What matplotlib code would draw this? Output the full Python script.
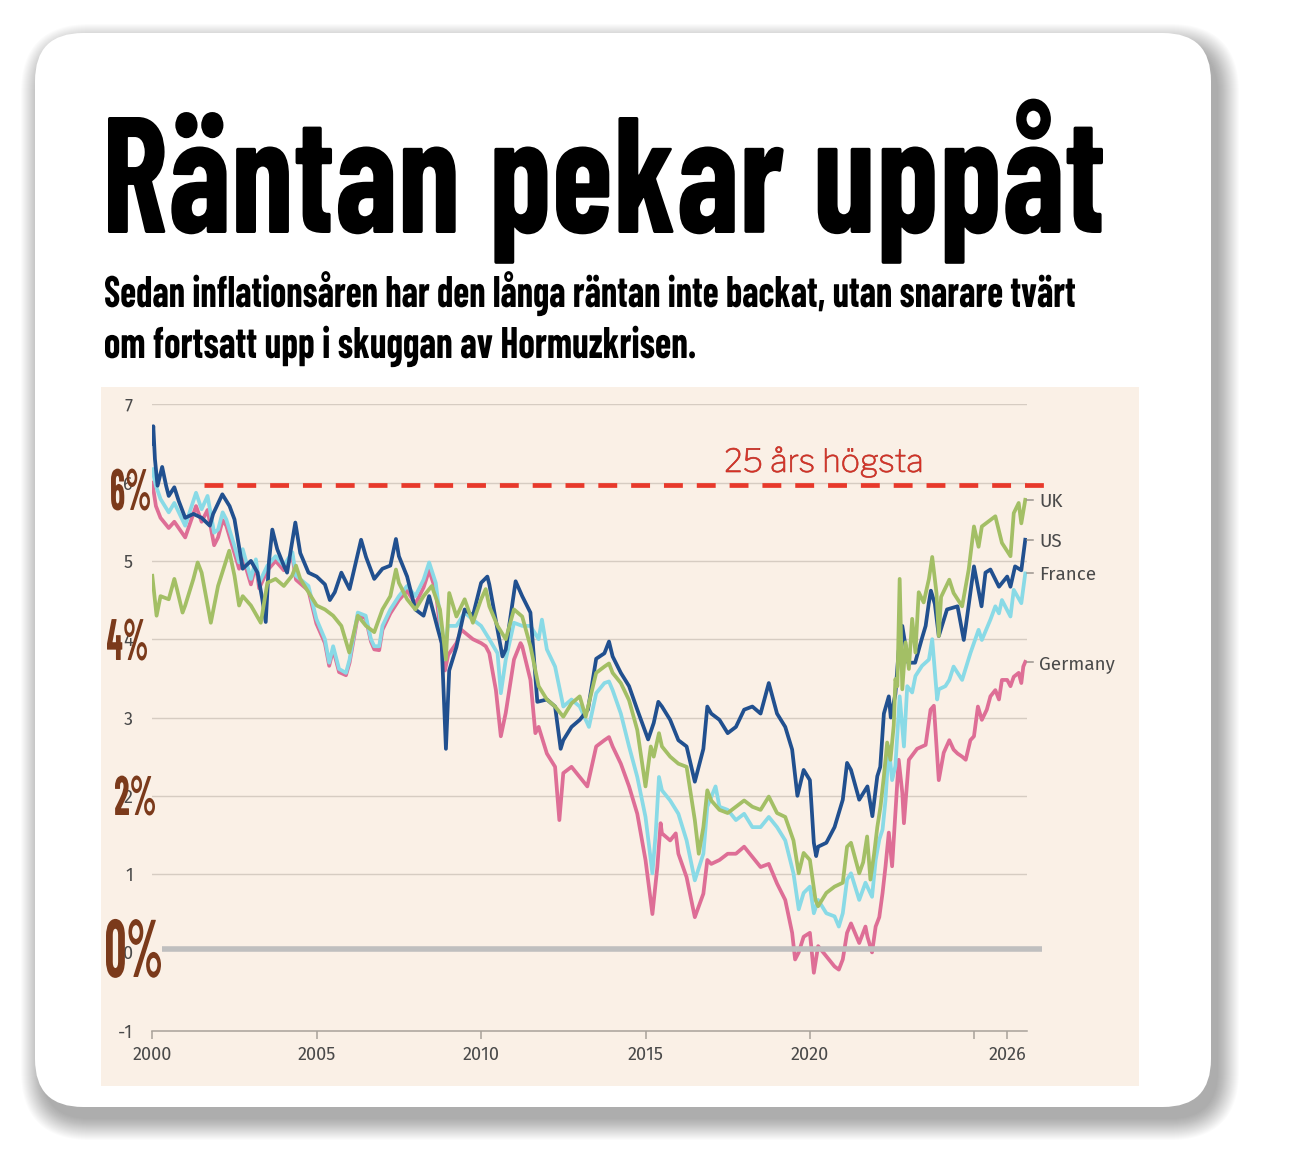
import os
import matplotlib
matplotlib.use("Agg")
import matplotlib.pyplot as plt
import matplotlib.patheffects as pe
from matplotlib import font_manager as fm
from matplotlib.patches import FancyBboxPatch, Rectangle
from matplotlib.textpath import TextPath
from matplotlib.transforms import Affine2D

W, H, DPI = 1290, 1156, 100

# ---------------- data (30-year government bond yields, %) ----------------
us = [(2000.00,6.50),(2000.03,6.72),(2000.08,6.30),(2000.16,5.96),(2000.30,6.20),(2000.42,5.96),(2000.50,5.83),(2000.67,5.94),(2000.80,5.77),(2001.00,5.55),(2001.25,5.60),(2001.50,5.55),(2001.75,5.45),(2001.85,5.60),(2002.13,5.85),(2002.35,5.70),(2002.50,5.53),(2002.75,4.90),(2003.00,5.00),(2003.20,4.85),(2003.35,4.50),(2003.45,4.22),(2003.55,5.00),(2003.65,5.40),(2003.80,5.15),(2004.00,4.94),(2004.10,4.85),(2004.35,5.49),(2004.50,5.10),(2004.75,4.85),(2005.00,4.80),(2005.25,4.70),(2005.40,4.50),(2005.55,4.60),(2005.75,4.85),(2006.00,4.64),(2006.20,5.00),(2006.35,5.27),(2006.50,5.05),(2006.75,4.77),(2007.00,4.90),(2007.24,4.94),(2007.41,5.28),(2007.50,5.06),(2007.75,4.80),(2008.00,4.38),(2008.25,4.30),(2008.42,4.55),(2008.67,4.15),(2008.80,3.95),(2008.93,2.60),(2009.03,3.60),(2009.25,3.90),(2009.50,4.38),(2009.75,4.30),(2010.00,4.72),(2010.19,4.80),(2010.25,4.70),(2010.50,4.12),(2010.65,3.78),(2010.75,3.87),(2011.05,4.74),(2011.25,4.55),(2011.50,4.34),(2011.71,3.20),(2012.00,3.23),(2012.25,3.14),(2012.42,2.60),(2012.50,2.71),(2012.75,2.88),(2013.00,2.97),(2013.25,3.10),(2013.50,3.75),(2013.75,3.82),(2013.89,3.97),(2014.00,3.78),(2014.25,3.57),(2014.50,3.40),(2014.75,3.10),(2015.08,2.72),(2015.25,2.93),(2015.39,3.20),(2015.50,3.14),(2015.75,2.97),(2016.00,2.71),(2016.25,2.63),(2016.50,2.18),(2016.76,2.60),(2016.88,3.14),(2017.00,3.05),(2017.25,2.97),(2017.50,2.80),(2017.75,2.88),(2018.00,3.10),(2018.25,3.14),(2018.50,3.05),(2018.75,3.44),(2019.00,3.05),(2019.25,2.88),(2019.46,2.59),(2019.62,2.00),(2019.81,2.33),(2020.00,2.20),(2020.12,1.40),(2020.19,1.23),(2020.25,1.35),(2020.50,1.40),(2020.75,1.60),(2021.00,1.95),(2021.13,2.42),(2021.25,2.33),(2021.50,1.95),(2021.75,2.12),(2021.90,1.74),(2022.05,2.25),(2022.14,2.37),(2022.25,3.05),(2022.40,3.27),(2022.46,3.00),(2022.60,3.30),(2022.70,3.85),(2022.81,4.17),(2022.99,3.70),(2023.20,3.70),(2023.40,4.00),(2023.52,4.17),(2023.62,4.47),(2023.68,4.62),(2023.80,4.45),(2023.92,4.04),(2024.17,4.38),(2024.49,4.42),(2024.68,3.99),(2024.74,4.16),(2024.99,4.93),(2025.22,4.42),(2025.34,4.85),(2025.49,4.89),(2025.75,4.67),(2026.00,4.80),(2026.10,4.67),(2026.24,4.93),(2026.43,4.88),(2026.55,5.27)]

uk = [(2000.00,4.81),(2000.13,4.30),(2000.25,4.55),(2000.50,4.51),(2000.67,4.77),(2000.75,4.64),(2000.92,4.34),(2001.00,4.43),(2001.25,4.77),(2001.38,4.98),(2001.50,4.85),(2001.78,4.21),(2002.00,4.68),(2002.34,5.13),(2002.50,4.81),(2002.64,4.43),(2002.75,4.55),(2003.00,4.43),(2003.30,4.21),(2003.50,4.72),(2003.75,4.77),(2004.00,4.68),(2004.25,4.81),(2004.37,4.94),(2004.50,4.77),(2004.75,4.60),(2005.00,4.43),(2005.25,4.38),(2005.50,4.30),(2005.75,4.17),(2005.99,3.83),(2006.25,4.30),(2006.50,4.17),(2006.75,4.09),(2007.00,4.38),(2007.24,4.55),(2007.41,4.89),(2007.50,4.72),(2007.75,4.51),(2008.00,4.38),(2008.25,4.55),(2008.50,4.68),(2008.75,4.38),(2008.93,3.74),(2009.03,4.59),(2009.25,4.29),(2009.50,4.51),(2009.75,4.21),(2010.00,4.51),(2010.14,4.64),(2010.25,4.42),(2010.50,4.17),(2010.75,4.00),(2011.00,4.38),(2011.25,4.29),(2011.50,3.91),(2011.75,3.40),(2012.00,3.23),(2012.25,3.14),(2012.50,3.01),(2012.75,3.18),(2013.00,3.27),(2013.18,3.01),(2013.50,3.57),(2013.75,3.65),(2013.89,3.69),(2014.00,3.57),(2014.25,3.44),(2014.50,3.22),(2014.75,2.84),(2015.00,2.12),(2015.16,2.63),(2015.25,2.50),(2015.41,2.80),(2015.50,2.63),(2015.75,2.50),(2016.00,2.41),(2016.25,2.37),(2016.50,1.69),(2016.62,1.26),(2016.76,1.60),(2016.88,2.07),(2017.00,1.94),(2017.25,1.82),(2017.50,1.78),(2017.75,1.86),(2018.00,1.94),(2018.25,1.86),(2018.50,1.82),(2018.75,1.99),(2019.00,1.78),(2019.25,1.73),(2019.50,1.43),(2019.66,1.01),(2019.81,1.27),(2020.00,1.18),(2020.17,0.67),(2020.25,0.59),(2020.50,0.76),(2020.75,0.84),(2021.00,0.89),(2021.13,1.35),(2021.25,1.40),(2021.50,1.01),(2021.62,1.15),(2021.74,1.48),(2021.84,0.93),(2021.95,1.25),(2022.05,1.60),(2022.15,1.87),(2022.25,2.25),(2022.35,2.68),(2022.45,2.46),(2022.55,2.90),(2022.60,3.49),(2022.66,3.40),(2022.73,4.77),(2022.81,3.36),(2022.91,3.96),(2023.01,3.62),(2023.11,4.26),(2023.21,3.83),(2023.31,4.60),(2023.46,4.47),(2023.62,4.77),(2023.72,5.05),(2023.85,4.59),(2023.92,4.04),(2023.99,4.54),(2024.24,4.76),(2024.37,4.59),(2024.63,4.42),(2024.83,4.89),(2024.99,5.44),(2025.13,5.18),(2025.23,5.44),(2025.64,5.57),(2025.84,5.23),(2026.10,5.06),(2026.20,5.61),(2026.35,5.74),(2026.43,5.48),(2026.55,5.78)]

france = [(2000.00,6.17),(2000.11,5.96),(2000.25,5.79),(2000.50,5.62),(2000.67,5.74),(2001.00,5.45),(2001.33,5.87),(2001.50,5.66),(2001.68,5.83),(2001.88,5.36),(2002.00,5.40),(2002.14,5.62),(2002.25,5.53),(2002.50,5.19),(2002.64,4.98),(2002.75,5.15),(2003.00,4.77),(2003.15,5.02),(2003.25,4.72),(2003.50,4.94),(2003.75,5.06),(2004.00,4.94),(2004.26,5.11),(2004.37,4.81),(2004.75,4.68),(2004.99,4.26),(2005.25,4.00),(2005.38,3.70),(2005.50,3.91),(2005.68,3.62),(2005.89,3.57),(2006.00,3.74),(2006.25,4.34),(2006.49,4.30),(2006.65,4.00),(2006.75,3.91),(2006.90,3.91),(2007.00,4.17),(2007.24,4.38),(2007.50,4.55),(2007.75,4.68),(2008.00,4.55),(2008.25,4.76),(2008.42,4.98),(2008.62,4.72),(2008.75,4.29),(2008.87,3.74),(2008.99,4.17),(2009.25,4.17),(2009.50,4.34),(2009.75,4.25),(2010.00,4.17),(2010.25,4.00),(2010.50,3.82),(2010.60,3.31),(2010.75,3.74),(2011.00,4.21),(2011.25,4.17),(2011.50,4.17),(2011.75,4.00),(2011.85,4.25),(2012.00,3.87),(2012.25,3.65),(2012.50,3.14),(2012.75,3.23),(2013.00,3.14),(2013.28,2.88),(2013.50,3.31),(2013.75,3.44),(2013.89,3.46),(2014.00,3.35),(2014.25,3.05),(2014.50,2.63),(2014.75,2.24),(2015.00,1.73),(2015.21,1.01),(2015.31,1.52),(2015.41,2.24),(2015.50,2.07),(2015.75,1.94),(2016.00,1.77),(2016.25,1.43),(2016.50,0.92),(2016.76,1.26),(2016.88,1.86),(2017.13,2.12),(2017.25,1.86),(2017.50,1.82),(2017.75,1.69),(2018.00,1.77),(2018.25,1.60),(2018.50,1.60),(2018.75,1.73),(2019.00,1.60),(2019.25,1.43),(2019.50,1.01),(2019.66,0.55),(2019.81,0.76),(2020.00,0.84),(2020.12,0.50),(2020.25,0.67),(2020.50,0.50),(2020.75,0.46),(2020.88,0.33),(2021.00,0.50),(2021.13,0.93),(2021.25,1.01),(2021.50,0.67),(2021.69,0.89),(2021.89,0.71),(2022.00,1.18),(2022.11,1.44),(2022.21,1.57),(2022.30,1.95),(2022.40,2.63),(2022.50,2.20),(2022.60,2.38),(2022.73,3.27),(2022.86,2.63),(2022.96,3.40),(2023.11,3.32),(2023.21,3.53),(2023.41,3.66),(2023.62,3.74),(2023.72,4.00),(2023.87,3.23),(2023.92,3.36),(2024.12,3.40),(2024.24,3.48),(2024.37,3.65),(2024.63,3.48),(2024.88,3.82),(2025.13,4.12),(2025.23,3.99),(2025.49,4.25),(2025.64,4.42),(2025.75,4.33),(2025.84,4.50),(2026.10,4.29),(2026.20,4.63),(2026.43,4.46),(2026.55,4.84)]

germany = [(2000.00,6.00),(2000.11,5.70),(2000.25,5.55),(2000.50,5.42),(2000.67,5.50),(2001.00,5.30),(2001.33,5.70),(2001.50,5.50),(2001.68,5.65),(2001.88,5.20),(2002.00,5.30),(2002.14,5.52),(2002.25,5.45),(2002.50,5.10),(2002.64,4.90),(2002.75,5.05),(2003.00,4.70),(2003.15,4.95),(2003.25,4.65),(2003.50,4.88),(2003.75,5.00),(2004.00,4.88),(2004.26,5.06),(2004.37,4.76),(2004.75,4.62),(2004.99,4.20),(2005.25,3.95),(2005.38,3.66),(2005.50,3.87),(2005.68,3.58),(2005.89,3.54),(2006.00,3.70),(2006.25,4.30),(2006.49,4.27),(2006.65,3.97),(2006.75,3.87),(2006.90,3.86),(2007.00,4.12),(2007.24,4.33),(2007.50,4.50),(2007.75,4.62),(2008.00,4.45),(2008.25,4.66),(2008.42,4.88),(2008.62,4.62),(2008.75,4.15),(2008.90,3.60),(2009.00,3.80),(2009.25,3.95),(2009.40,4.12),(2009.75,4.00),(2010.00,3.95),(2010.14,3.91),(2010.25,3.82),(2010.45,3.35),(2010.60,2.76),(2010.75,3.06),(2011.00,3.74),(2011.20,3.95),(2011.25,3.91),(2011.50,3.48),(2011.65,2.80),(2011.75,2.88),(2012.00,2.54),(2012.25,2.37),(2012.38,1.69),(2012.50,2.29),(2012.75,2.37),(2013.00,2.24),(2013.23,2.12),(2013.50,2.63),(2013.75,2.71),(2013.89,2.75),(2014.00,2.63),(2014.25,2.41),(2014.50,2.12),(2014.75,1.77),(2015.00,1.18),(2015.21,0.49),(2015.36,1.09),(2015.46,1.65),(2015.50,1.52),(2015.75,1.43),(2015.92,1.52),(2016.00,1.26),(2016.25,0.96),(2016.50,0.45),(2016.76,0.75),(2016.88,1.18),(2017.00,1.13),(2017.25,1.18),(2017.50,1.26),(2017.75,1.26),(2018.00,1.35),(2018.25,1.22),(2018.50,1.09),(2018.75,1.13),(2019.00,0.88),(2019.25,0.67),(2019.46,0.25),(2019.55,-0.09),(2019.66,0.00),(2019.81,0.20),(2020.00,0.25),(2020.12,-0.26),(2020.25,0.08),(2020.50,-0.05),(2020.75,-0.18),(2020.88,-0.22),(2021.00,-0.09),(2021.13,0.25),(2021.25,0.37),(2021.50,0.12),(2021.69,0.33),(2021.75,0.20),(2021.89,0.00),(2022.00,0.33),(2022.11,0.45),(2022.21,0.76),(2022.30,1.10),(2022.40,1.53),(2022.50,1.10),(2022.60,1.78),(2022.70,2.46),(2022.81,2.04),(2022.86,1.65),(2023.01,2.46),(2023.26,2.60),(2023.52,2.65),(2023.67,3.10),(2023.77,3.15),(2023.92,2.20),(2024.07,2.55),(2024.24,2.71),(2024.37,2.59),(2024.49,2.54),(2024.63,2.50),(2024.74,2.46),(2024.88,2.71),(2024.99,2.76),(2025.11,3.14),(2025.23,2.97),(2025.38,3.10),(2025.49,3.27),(2025.64,3.35),(2025.75,3.23),(2025.84,3.48),(2026.00,3.48),(2026.10,3.40),(2026.20,3.52),(2026.35,3.57),(2026.43,3.44),(2026.49,3.65),(2026.55,3.71)]

series_names = ["Germany", "France", "US", "UK"]
series_data = [germany, france, us, uk]
series_colors = ["#de6e96", "#89dae6", "#21508f", "#a3bf65"]

y_ticks = [-1, 0, 1, 2, 3, 4, 5, 6, 7]
y_ticklabels = ["-1", "0", "1", "2", "3", "4", "5", "6", "7"]
x_ticks = [2000, 2005, 2010, 2015, 2020, 2025, 2026]
x_ticklabels = ["2000", "2005", "2010", "2015", "2020", "", "2026"]
high_level = 5.97
high_label = "25 års högsta"

title = "Räntan pekar uppåt"
subtitle = ["Sedan inflationsåren har den långa räntan inte backat, utan snarare tvärt",
            "om fortsatt upp i skuggan av Hormuzkrisen."]


# ---------------- fonts ----------------
def find_font(families, weight):
    for fam in families:
        try:
            return fm.findfont(fm.FontProperties(family=fam, weight=weight), fallback_to_default=False)
        except Exception:
            continue
    return fm.findfont(fm.FontProperties(family="DejaVu Sans", weight=weight))


COND_BOLD = find_font(["Barlow Condensed", "Roboto Condensed", "DejaVu Sans"], "bold")
REG = find_font(["Libre Franklin", "Roboto", "DejaVu Sans"], "medium")
SANS = ["Fira Sans", "Open Sans", "DejaVu Sans"]


class Squeeze(pe.AbstractPathEffect):
    """Scale the glyph outlines horizontally around the text origin (fine width fit)."""
    def __init__(self, sx, edge=None, lw=0.0):
        super().__init__((0, 0))
        self.sx, self.edge, self.lw = sx, edge, lw

    def draw_path(self, renderer, gc, tpath, affine, rgbFace=None):
        x0 = affine.get_matrix()[0, 2]
        t = affine + Affine2D().translate(-x0, 0).scale(self.sx, 1).translate(x0, 0)
        gc0 = renderer.new_gc()
        gc0.copy_properties(gc)
        if self.edge is not None and self.lw > 0:
            gc0.set_foreground(self.edge)
            gc0.set_linewidth(self.lw)
            gc0.set_joinstyle("round")
        renderer.draw_path(gc0, tpath, t, rgbFace)
        gc0.restore()


def fitted_text(axo, s, left_px, base_px, ref_h_px, ink_w_px, fname, color,
                ref="H", edge=None, elw=0.0, zorder=5):
    fp0 = fm.FontProperties(fname=fname)
    rh = TextPath((0, 0), ref, size=100, prop=fp0).get_extents().height
    size_px = 100.0 * ref_h_px / rh
    ext = TextPath((0, 0), s, size=size_px, prop=fp0).get_extents()
    sx = ink_w_px / ext.width if ink_w_px else 1.0
    fp = fm.FontProperties(fname=fname, size=size_px * 72.0 / DPI)
    t = axo.text(left_px - sx * ext.x0, base_px, s, fontproperties=fp, color=color,
                 ha="left", va="baseline", zorder=zorder)
    t.set_path_effects([Squeeze(sx, edge, elw)])
    return t


# ---------------- figure ----------------
fig = plt.figure(figsize=(W / DPI, H / DPI), dpi=DPI, facecolor="white")

bg = fig.add_axes([0, 0, 1, 1], zorder=0)
bg.set_xlim(0, W); bg.set_ylim(H, 0); bg.axis("off")

# card with a soft drop shadow
for i in range(22):
    bg.add_patch(FancyBboxPatch((35 + 7 - i, 33 + 12 - i), 1176 + 2 * i, 1074 + 2 * i,
                                boxstyle="round,pad=0,rounding_size=%d" % (48 + i),
                                facecolor="black", edgecolor="none", alpha=0.015, zorder=1))
bg.add_patch(FancyBboxPatch((35, 33), 1176, 1074, boxstyle="round,pad=0,rounding_size=48",
                            facecolor="white", edgecolor="none", zorder=2))
bg.add_patch(Rectangle((101, 387), 1038, 699, facecolor="#faf0e6", edgecolor="none", zorder=3))

# title and subtitle
fitted_text(bg, title, 108, 233, 116, 995, COND_BOLD, "black")
fitted_text(bg, subtitle[0], 105, 307, 31, 970, COND_BOLD, "black")
fitted_text(bg, subtitle[1], 105, 358, 31, 590, COND_BOLD, "black")

# ---------------- chart axes ----------------
PX_PER_YEAR = 32.88
ax_left, ax_right, ax_top, ax_bot = 152.3, 1027.3, 404.3, 1030.7
ax = fig.add_axes([ax_left / W, 1 - ax_bot / H, (ax_right - ax_left) / W, (ax_bot - ax_top) / H], zorder=1)
ax.patch.set_alpha(0)
x_max = 2000 + (ax_right - ax_left) / PX_PER_YEAR
ax.set_xlim(2000, x_max)
ax.set_ylim(-1, 7)
for s in ["top", "right", "left"]:
    ax.spines[s].set_visible(False)
ax.spines["bottom"].set_color("#a8a19a")
ax.spines["bottom"].set_linewidth(1.1)

for y in y_ticks[2:]:
    ax.axhline(y, color="#d6ccc2", lw=1.0, zorder=1)

ax.set_yticks(y_ticks)
ax.set_yticklabels(y_ticklabels)
ax.set_xticks(x_ticks)
ax.set_xticklabels(x_ticklabels)
ax.tick_params(axis="y", length=0, pad=14, labelsize=13, labelcolor="#4a4a4a")
ax.tick_params(axis="x", length=6, width=1.1, color="#a8a19a", pad=5, labelsize=13, labelcolor="#4a4a4a")
for lab in ax.get_xticklabels() + ax.get_yticklabels():
    lab.set_family(SANS)

for name, data, col, z in zip(series_names, series_data, series_colors, [3, 4, 5, 6]):
    xs = [p[0] for p in data]
    ys = [p[1] for p in data]
    ax.plot(xs, ys, color=col, lw=2.7, solid_joinstyle="round", zorder=z)

# zero line and 25-year high
ax.plot([2000.3, 2027.05], [0.04, 0.04], color="#bfbfbf", lw=4.0, solid_capstyle="butt",
        clip_on=False, zorder=8)
ax.plot([2001.58, 2027.2], [high_level, high_level], color="#e8392b", lw=3.4,
        linestyle=(0, (4.0, 2.95)), dash_capstyle="butt", clip_on=False, zorder=8)

# end labels
tick_len = 6 / PX_PER_YEAR
for name, data in zip(series_names, series_data):
    v = data[-1][1]
    ax.plot([x_max, x_max + tick_len], [v, v], color="#9a948e", lw=1.1, clip_on=False, zorder=8)
    ax.text(x_max + 12 / PX_PER_YEAR, v, name, fontsize=13.5, color="#4a4a4a",
            family=SANS, ha="left", va="center_baseline", clip_on=False)

# ---------------- overlay annotations ----------------
ov = fig.add_axes([0, 0, 1, 1], zorder=3)
ov.set_xlim(0, W); ov.set_ylim(H, 0); ov.axis("off")
BROWN = "#7b3a1b"
fitted_text(ov, "6%", 111, 510, 42, 39, COND_BOLD, BROWN, ref="6%")
fitted_text(ov, "4%", 107, 660, 42, 40, COND_BOLD, BROWN, ref="4%")
fitted_text(ov, "2%", 115, 815, 40, 40, COND_BOLD, BROWN, ref="2%")
fitted_text(ov, "0%", 106, 977, 59, 55, COND_BOLD, BROWN, ref="0%")
fitted_text(ov, high_label, 726, 472, 24, 195, REG, "#e8362a", ref="2", edge="#b3241a", elw=0.45)

fig.savefig("out.png", dpi=DPI, facecolor="white")
